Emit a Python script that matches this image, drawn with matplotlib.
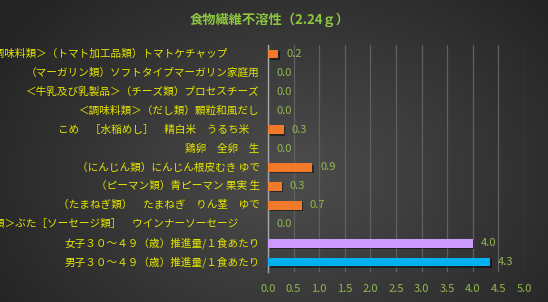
import numpy as np
import matplotlib
matplotlib.use("Agg")
import matplotlib.pyplot as plt
import matplotlib.transforms as mtransforms

plt.rcParams['font.family'] = ['Noto Sans CJK JP', 'DejaVu Sans']

title = "食物繊維不溶性（2.24ｇ）"
categories = [
    "＜調味料類＞（トマト加工品類）トマトケチャップ　　　",
    "（マーガリン類）ソフトタイプマーガリン家庭用",
    "＜牛乳及び乳製品＞（チーズ類）プロセスチーズ",
    "＜調味料類＞（だし類）顆粒和風だし",
    "こめ　［水稲めし］　精白米　うるち米　",
    "鶏卵　全卵　生",
    "（にんじん類）にんじん根皮むき ゆで",
    "（ピーマン類）青ピーマン 果実 生",
    "（たまねぎ類）　たまねぎ　りん茎　ゆで",
    "＜畜肉類＞ぶた［ソーセージ類］　ウインナーソーセージ　　",
    "女子３０～４９（歳）推進量/１食あたり",
    "男子３０～４９（歳）推進量/１食あたり",
]
values = [0.2, 0.0, 0.0, 0.0, 0.31, 0.0, 0.86, 0.27, 0.66, 0.0, 4.0, 4.34]
bar_colors = ["#F07A2A"] * 10 + ["#CC99FF", "#00B0F0"]
xticks = [0.0, 0.5, 1.0, 1.5, 2.0, 2.5, 3.0, 3.5, 4.0, 4.5, 5.0]

W, H = 548, 302
fig = plt.figure(figsize=(W / 100, H / 100), dpi=100)

# background gradient
bg = fig.add_axes([0, 0, 1, 1], zorder=-10)
yy, xx = np.mgrid[0:H, 0:W]
d = np.sqrt(((xx - 290) / 340.0) ** 2 + ((yy - 175) / 260.0) ** 2)
d = np.clip(d, 0, 1)
c0 = np.array([0x4d, 0x4d, 0x4d]) / 255.0
c1 = np.array([0x24, 0x24, 0x24]) / 255.0
img = c0 + (c1 - c0) * d[..., None]
bg.imshow(img, aspect='auto', extent=[0, 1, 0, 1], origin='upper')
bg.set_xlim(0, 1)
bg.set_ylim(0, 1)
bg.axis('off')

ax = fig.add_axes([268 / W, 1 - 271.5 / H, 256 / W, 227 / H])
ax.patch.set_alpha(0)
y = np.arange(len(categories))
shadow = mtransforms.offset_copy(ax.transData, fig=fig, x=1.5, y=-1.5, units='dots')
ax.barh(y, values, height=0.47, color='black', alpha=0.45, transform=shadow, zorder=2)
ax.barh(y, values, height=0.47, color=bar_colors, zorder=3)

ax.set_xlim(0, 5)
ax.set_ylim(len(categories) - 0.5, -0.5)
ax.set_xticks(xticks)
ax.set_xticklabels([f"{t:.1f}" for t in xticks])
ax.set_yticks(y)
ax.set_yticklabels([])

ax.tick_params(axis='y', length=0)
ax.tick_params(axis='x', length=0, pad=9, labelcolor='#92B84F', labelsize=8)

# category labels, keeping the width of trailing full-width spaces
fs = 7.65
blend = mtransforms.blended_transform_factory(ax.transAxes, ax.transData)
for yi, lab in zip(y, categories):
    s = lab.rstrip('　 ')
    tail = lab[len(s):]
    em = sum(1.0 if ch == '　' else 0.5 for ch in tail)
    off = mtransforms.ScaledTranslation(-(6 + em * fs) / 72.0, 0, fig.dpi_scale_trans)
    ax.text(0, yi, s, transform=blend + off, ha='right', va='center',
            color='#E6E600', fontsize=fs, clip_on=False)

for sp in ['top', 'right', 'bottom']:
    ax.spines[sp].set_visible(False)
ax.spines['left'].set_color('#A8A8A8')
ax.spines['left'].set_linewidth(1.0)
ax.xaxis.grid(True, color='#606060', linewidth=0.9)
ax.set_axisbelow(True)

for yi, v in zip(y, values):
    ax.annotate(f"{v:.1f}", (v, yi), xytext=(5.8, 0), textcoords='offset points',
                ha='left', va='center', color='#92B84F', fontsize=8)

fig.text(270 / W, 1 - 20 / H, title, ha='center', va='center',
         color='#8DC63F', fontsize=9.5, fontweight='bold')

fig.savefig("out.png", dpi=100)
